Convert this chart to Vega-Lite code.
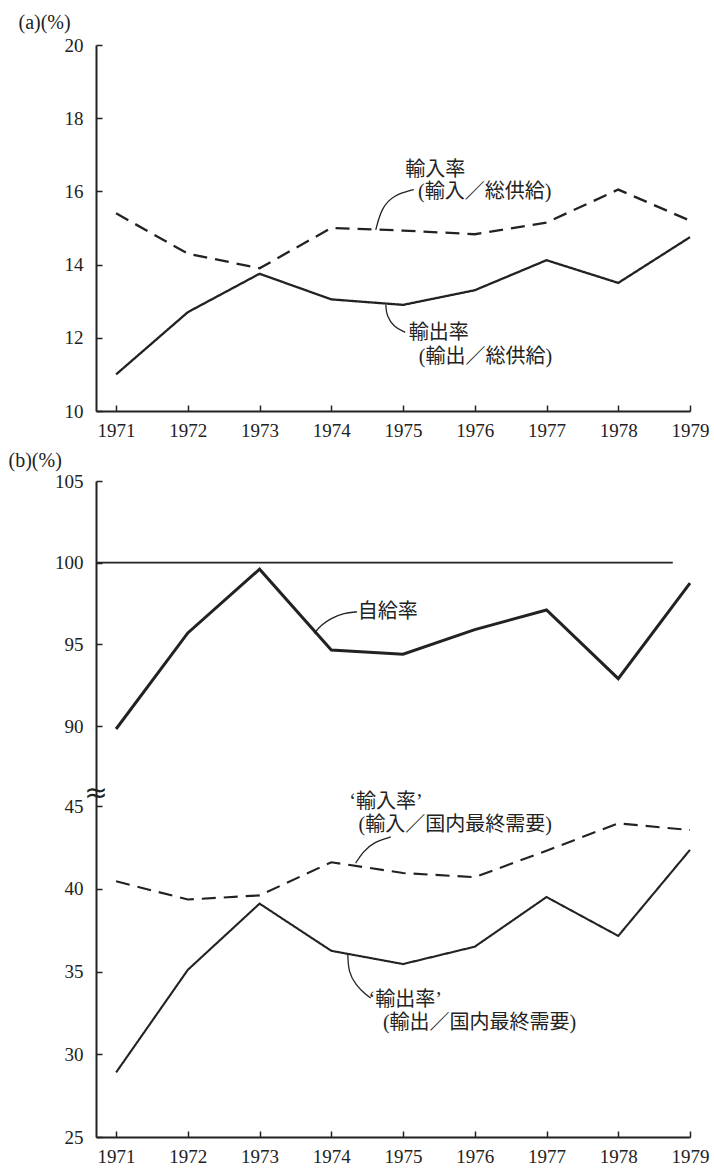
{
  "$schema": "https://vega.github.io/schema/vega-lite/v6.json",
  "background": "white",
  "padding": {"left": 8, "top": 12, "right": 4, "bottom": 4},
  "bounds": "flush",
  "spacing": 70,
  "config": {
    "view": {"stroke": null},
    "font": "Liberation Serif, Noto Sans CJK JP",
    "axis": {
      "labelFont": "Liberation Serif",
      "labelFontSize": 19,
      "labelColor": "#222",
      "domainColor": "#222",
      "domainWidth": 2,
      "tickColor": "#222",
      "tickWidth": 1.5,
      "tickSize": -6,
      "grid": false,
      "labelFlush": false,
      "labelOverlap": false,
      "labelBound": false,
      "titleFont": "Liberation Serif",
      "titleFontSize": 20,
      "titleFontWeight": "normal",
      "titleColor": "#222"
    }
  },
  "datasets": {
    "a": [
      {"series": "輸入率", "year": 1971, "value": 15.4},
      {"series": "輸入率", "year": 1972, "value": 14.3},
      {"series": "輸入率", "year": 1973, "value": 13.9},
      {"series": "輸入率", "year": 1974, "value": 15.0},
      {"series": "輸入率", "year": 1975, "value": 14.93},
      {"series": "輸入率", "year": 1976, "value": 14.83},
      {"series": "輸入率", "year": 1977, "value": 15.15},
      {"series": "輸入率", "year": 1978, "value": 16.05},
      {"series": "輸入率", "year": 1979, "value": 15.2},
      {"series": "輸出率", "year": 1971, "value": 11.0},
      {"series": "輸出率", "year": 1972, "value": 12.7},
      {"series": "輸出率", "year": 1973, "value": 13.75},
      {"series": "輸出率", "year": 1974, "value": 13.05},
      {"series": "輸出率", "year": 1975, "value": 12.9},
      {"series": "輸出率", "year": 1976, "value": 13.3},
      {"series": "輸出率", "year": 1977, "value": 14.12},
      {"series": "輸出率", "year": 1978, "value": 13.5},
      {"series": "輸出率", "year": 1979, "value": 14.75}
    ],
    "leadersA": [
      {"id": "i", "k": 1, "year": 1974.62, "value": 14.95},
      {"id": "i", "k": 2, "year": 1974.70, "value": 15.55},
      {"id": "i", "k": 3, "year": 1974.87, "value": 15.9},
      {"id": "i", "k": 4, "year": 1975.15, "value": 16.05},
      {"id": "e", "k": 1, "year": 1974.76, "value": 12.9},
      {"id": "e", "k": 2, "year": 1974.77, "value": 12.6},
      {"id": "e", "k": 3, "year": 1974.87, "value": 12.3},
      {"id": "e", "k": 4, "year": 1975.03, "value": 12.15}
    ],
    "labelsA": [
      {"year": 1975.03, "value": 16.59, "text": "輸入率"},
      {"year": 1975.21, "value": 15.99, "text": "(輸入／総供給)"},
      {"year": 1975.08, "value": 12.13, "text": "輸出率"},
      {"year": 1975.22, "value": 11.48, "text": "(輸出／総供給)"}
    ],
    "b": [
      {"series": "自給率", "year": 1971, "value": 88.3},
      {"series": "自給率", "year": 1972, "value": 95.7},
      {"series": "自給率", "year": 1973, "value": 99.6},
      {"series": "自給率", "year": 1974, "value": 94.65},
      {"series": "自給率", "year": 1975, "value": 94.4},
      {"series": "自給率", "year": 1976, "value": 95.9},
      {"series": "自給率", "year": 1977, "value": 97.1},
      {"series": "自給率", "year": 1978, "value": 92.9},
      {"series": "自給率", "year": 1979, "value": 98.75},
      {"series": "‘輸入率’", "year": 1971, "value": 40.45},
      {"series": "‘輸入率’", "year": 1972, "value": 39.35},
      {"series": "‘輸入率’", "year": 1973, "value": 39.6},
      {"series": "‘輸入率’", "year": 1974, "value": 41.6},
      {"series": "‘輸入率’", "year": 1975, "value": 40.95},
      {"series": "‘輸入率’", "year": 1976, "value": 40.7},
      {"series": "‘輸入率’", "year": 1977, "value": 42.3},
      {"series": "‘輸入率’", "year": 1978, "value": 43.95},
      {"series": "‘輸入率’", "year": 1979, "value": 43.55},
      {"series": "‘輸出率’", "year": 1971, "value": 28.9},
      {"series": "‘輸出率’", "year": 1972, "value": 35.1},
      {"series": "‘輸出率’", "year": 1973, "value": 39.1},
      {"series": "‘輸出率’", "year": 1974, "value": 36.25},
      {"series": "‘輸出率’", "year": 1975, "value": 35.45},
      {"series": "‘輸出率’", "year": 1976, "value": 36.5},
      {"series": "‘輸出率’", "year": 1977, "value": 39.5},
      {"series": "‘輸出率’", "year": 1978, "value": 37.15},
      {"series": "‘輸出率’", "year": 1979, "value": 42.35}
    ],
    "ref": [
      {"year": 1970.72, "year2": 1978.76, "value": 100}
    ],
    "leadersB": [
      {"id": "s", "k": 1, "year": 1973.76, "value": 95.67},
      {"id": "s", "k": 2, "year": 1973.86, "value": 96.18},
      {"id": "s", "k": 3, "year": 1973.99, "value": 96.59},
      {"id": "s", "k": 4, "year": 1974.18, "value": 96.93},
      {"id": "s", "k": 5, "year": 1974.36, "value": 96.99},
      {"id": "i", "k": 1, "year": 1974.34, "value": 41.55},
      {"id": "i", "k": 2, "year": 1974.44, "value": 42.22},
      {"id": "i", "k": 3, "year": 1974.59, "value": 42.82},
      {"id": "i", "k": 4, "year": 1974.83, "value": 43.13},
      {"id": "e", "k": 1, "year": 1974.23, "value": 36.05},
      {"id": "e", "k": 2, "year": 1974.24, "value": 34.95},
      {"id": "e", "k": 3, "year": 1974.34, "value": 34.2},
      {"id": "e", "k": 4, "year": 1974.48, "value": 33.6},
      {"id": "e", "k": 5, "year": 1974.55, "value": 33.4}
    ],
    "labelsB": [
      {"year": 1974.37, "value": 96.99, "text": "自給率"},
      {"year": 1974.25, "value": 47.0, "text": "‘輸入率’"},
      {"year": 1974.38, "value": 43.85, "text": "(輸入／国内最終需要)"},
      {"year": 1974.52, "value": 33.28, "text": "‘輸出率’"},
      {"year": 1974.72, "value": 31.9, "text": "(輸出／国内最終需要)"}
    ],
    "brk": [
      {"year": 1970.72, "value": 52, "text": "≈"}
    ]
  },
  "vconcat": [
    {
      "width": 594,
      "height": 366,
      "layer": [
        {
          "data": {"name": "a"},
          "mark": {"type": "line", "color": "#222", "strokeWidth": 2.3},
          "encoding": {
            "x": {
              "field": "year", "type": "quantitative",
              "scale": {"domain": [1970.72, 1979], "nice": false, "zero": false},
              "axis": {"values": [1971, 1972, 1973, 1974, 1975, 1976, 1977, 1978, 1979], "format": "d", "title": null, "labelPadding": 16}
            },
            "y": {
              "field": "value", "type": "quantitative",
              "scale": {"domain": [10, 20], "nice": false, "zero": false},
              "axis": {
                "values": [10, 12, 14, 16, 18, 20], "labelPadding": 19,
                "title": "(a)(%)", "titleAngle": 0, "titleX": -78, "titleY": -23,
                "titleAlign": "left", "titleBaseline": "middle"
              }
            },
            "strokeDash": {
              "field": "series", "type": "nominal",
              "scale": {"domain": ["輸入率", "輸出率"], "range": [[14, 8], [1, 0]]},
              "legend": null
            }
          }
        },
        {
          "data": {"name": "leadersA"},
          "mark": {"type": "line", "interpolate": "basis", "color": "#222", "strokeWidth": 1.3},
          "encoding": {
            "x": {"field": "year", "type": "quantitative"},
            "y": {"field": "value", "type": "quantitative"},
            "detail": {"field": "id"},
            "order": {"field": "k"}
          }
        },
        {
          "data": {"name": "labelsA"},
          "mark": {"type": "text", "align": "left", "baseline": "middle", "fontSize": 20, "color": "#222"},
          "encoding": {
            "x": {"field": "year", "type": "quantitative"},
            "y": {"field": "value", "type": "quantitative"},
            "text": {"field": "text"}
          }
        }
      ]
    },
    {
      "width": 594,
      "height": 656,
      "layer": [
        {
          "data": {"name": "ref"},
          "mark": {"type": "rule", "color": "#222", "strokeWidth": 1.8},
          "encoding": {
            "x": {
              "field": "year", "type": "quantitative",
              "scale": {"domain": [1970.72, 1979], "nice": false, "zero": false},
              "axis": {"values": [1971, 1972, 1973, 1974, 1975, 1976, 1977, 1978, 1979], "format": "d", "title": null, "labelPadding": 16}
            },
            "x2": {"field": "year2"},
            "y": {
              "field": "value", "type": "quantitative",
              "scale": {"domain": [25, 45, 90, 105], "range": [656, 325, 245, 0], "nice": false, "zero": false},
              "axis": {
                "values": [25, 30, 35, 40, 45, 90, 95, 100, 105], "labelPadding": 19,
                "title": "(b)(%)", "titleAngle": 0, "titleX": -88, "titleY": -21,
                "titleAlign": "left", "titleBaseline": "middle"
              }
            }
          }
        },
        {
          "data": {"name": "b"},
          "transform": [{"filter": "datum.series === '自給率'"}],
          "mark": {"type": "line", "color": "#222", "strokeWidth": 3},
          "encoding": {
            "x": {"field": "year", "type": "quantitative"},
            "y": {"field": "value", "type": "quantitative"}
          }
        },
        {
          "data": {"name": "b"},
          "transform": [{"filter": "datum.series !== '自給率'"}],
          "mark": {"type": "line", "color": "#222", "strokeWidth": 2.1},
          "encoding": {
            "x": {"field": "year", "type": "quantitative"},
            "y": {"field": "value", "type": "quantitative"},
            "strokeDash": {
              "field": "series", "type": "nominal",
              "scale": {"domain": ["‘輸入率’", "‘輸出率’"], "range": [[14, 8], [1, 0]]},
              "legend": null
            }
          }
        },
        {
          "data": {"name": "leadersB"},
          "mark": {"type": "line", "interpolate": "basis", "color": "#222", "strokeWidth": 1.3},
          "encoding": {
            "x": {"field": "year", "type": "quantitative"},
            "y": {"field": "value", "type": "quantitative"},
            "detail": {"field": "id"},
            "order": {"field": "k"}
          }
        },
        {
          "data": {"name": "labelsB"},
          "mark": {"type": "text", "align": "left", "baseline": "middle", "fontSize": 20, "color": "#222"},
          "encoding": {
            "x": {"field": "year", "type": "quantitative"},
            "y": {"field": "value", "type": "quantitative"},
            "text": {"field": "text"}
          }
        },
        {
          "data": {"name": "brk"},
          "mark": {"type": "text", "align": "center", "baseline": "middle", "fontSize": 28, "font": "DejaVu Sans", "color": "#222"},
          "encoding": {
            "x": {"field": "year", "type": "quantitative"},
            "y": {"field": "value", "type": "quantitative"},
            "text": {"field": "text"}
          }
        }
      ]
    }
  ]
}
